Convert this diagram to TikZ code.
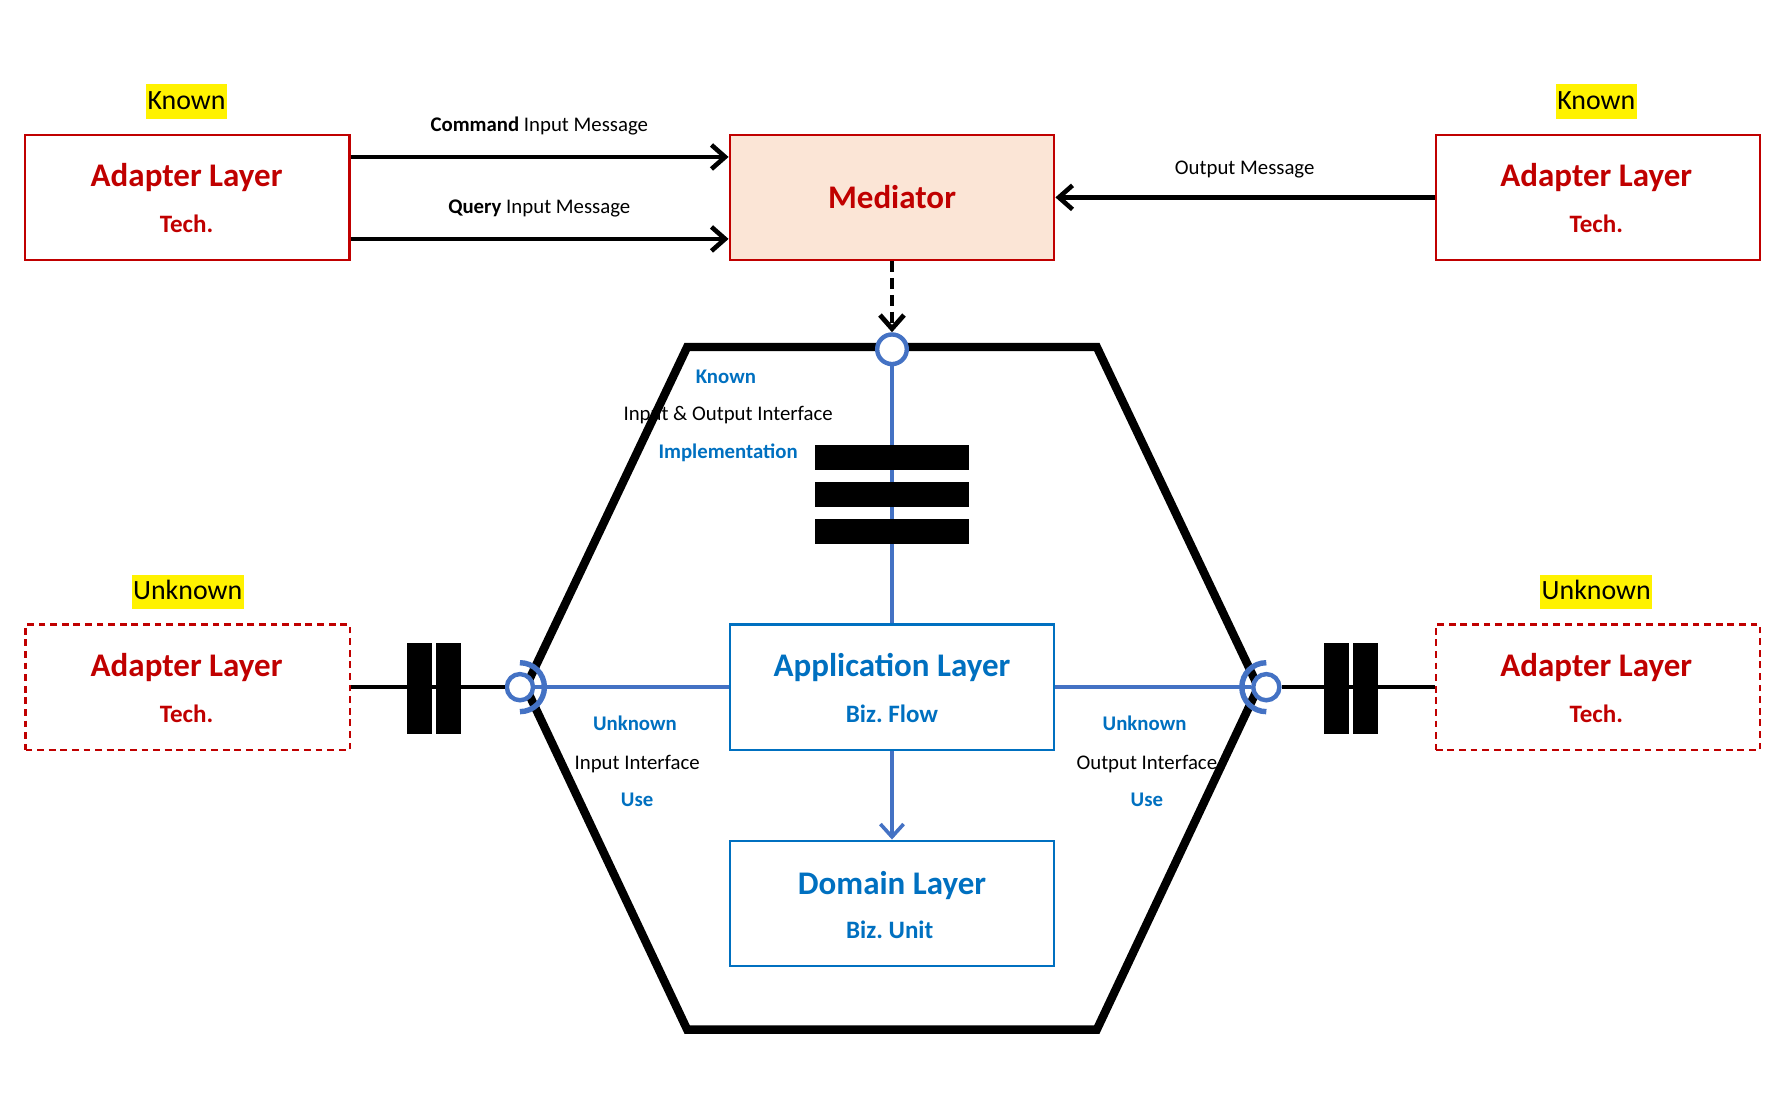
\documentclass[tikz,border=0pt]{standalone}
\usepackage{fontspec}
\setmainfont{Carlito}
\usetikzlibrary{arrows.meta}
\definecolor{tred}{HTML}{C00000}
\definecolor{peach}{HTML}{FBE5D6}
\definecolor{tblue}{HTML}{0070C0}
\definecolor{lblue}{HTML}{4472C4}
\newcommand{\layerfont}{\fontsize{8.25}{10}\selectfont\bfseries}
\newcommand{\techfont}{\fontsize{6.26}{8}\selectfont\bfseries}
\newcommand{\tagfont}{\fontsize{6.97}{8}\selectfont}
\newcommand{\msgfont}{\fontsize{5.2}{6}\selectfont}
\frenchspacing
\begin{document}
\begin{tikzpicture}[x=0.01cm, y=-0.01cm,
	box/.style={draw, rectangle, line width=0.6pt, minimum width=2.85cm, minimum height=1.1cm, inner sep=0},
	adapter/.style={box, draw=tred},
	ghost/.style={adapter, dash pattern=on 1.7pt off 1.2pt},
	layer/.style={box, draw=tblue},
	hl/.style={fill=yellow, anchor=base, inner xsep=0.4pt, inner ysep=0.7pt, text height=5.5pt, text depth=1.7pt, font=\tagfont},
	title/.style={anchor=base, inner sep=0, font=\layerfont},
	tech/.style={anchor=base, inner sep=0, font=\techfont},
	lbl/.style={anchor=base, inner sep=0, font=\msgfont},
	tag/.style={lbl, text=tblue, font=\msgfont\bfseries},
	msg/.style={line width=1.15pt, -{Straight Barb[length=3.4pt, width=6pt]}},
	link/.style={line width=1pt},
	wire/.style={lblue, line width=0.9pt},
	ball/.style={circle, draw=lblue, fill=white, line width=1.1pt, minimum size=0.23cm, inner sep=0},
	sock/.style={lblue, line width=1.35pt},
	hexa/.style={line width=2.1pt}]

	\useasboundingbox (0,0) rectangle (1561,971);

	\draw[hexa] (604,305) -- (964,305) -- (1106,604) -- (964,905) -- (604,905) -- (462,604) -- cycle;

	\node[hl] (knownL) at (164,96) {Known};
	\node[hl] (knownR) at (1403,96) {Known};
	\node[hl] (unknownL) at (165,527) {Unknown};
	\node[hl] (unknownR) at (1403,527) {Unknown};

	\node[adapter] (adTL) at (164.5,173.5) {};
	\node[title, tred] (adTLa) at (164,164) {Adapter Layer};
	\node[tech, tred] (adTLb) at (164,204) {Tech.};
	\node[adapter] (adTR) at (1404.5,173.5) {};
	\node[title, tred] (adTRa) at (1403,164) {Adapter Layer};
	\node[tech, tred] (adTRb) at (1403,204) {Tech.};
	\node[adapter, fill=peach] (med) at (784,173.5) {};
	\node[title, tred] (meda) at (784,183) {Mediator};

	\node[ghost] (adBL) at (165,604) {};
	\node[title, tred] (adBLa) at (164,595) {Adapter Layer};
	\node[tech, tred] (adBLb) at (164,635) {Tech.};
	\node[ghost] (adBR) at (1404.5,604) {};
	\node[title, tred] (adBRa) at (1403,595) {Adapter Layer};
	\node[tech, tred] (adBRb) at (1403,635) {Tech.};

	\node[layer] (app) at (784,604) {};
	\node[title, tblue] (appa) at (784,595) {Application Layer};
	\node[tech, tblue] (appb) at (784,635) {Biz. Flow};
	\node[layer] (dom) at (784,794) {};
	\node[title, tblue] (doma) at (784,786) {Domain Layer};
	\node[tech, tblue] (domb) at (782,825) {Biz. Unit};

	\draw[msg] ([yshift=0.355cm]adTL.east) -- ([yshift=0.355cm]med.west);
	\draw[msg] ([yshift=-0.365cm]adTL.east) -- ([yshift=-0.365cm]med.west);
	\draw[msg] (adTR.west) -- (med.east);
	\node[lbl] (cmd) at (474,116) {\textbf{Command} Input Message};
	\node[lbl] (qry) at (474,188) {\textbf{Query} Input Message};
	\node[lbl] (outmsg) at (1094,153) {Output Message};

	\node[ball, minimum size=0.26cm] (io) at (784,307) {};
	\node[ball] (inL) at (457,604) {};
	\node[ball] (outR) at (1113,604) {};

	\draw[wire] (io) -- (app);
	\foreach \y in {391,424,456}
		\fill (716,\y) rectangle (852,\y+22);
	\draw[line width=1.2pt, dash pattern=on 2.8pt off 1.4pt, -{Straight Barb[length=3.4pt, width=6pt]}] (med) -- (io);

	\draw[link] (adBL) -- (inL);
	\fill (358,565) rectangle (380,645);
	\fill (383,565) rectangle (405,645);
	\draw[wire] (inL) -- (app);
	\draw[sock] ([yshift=0.215cm]inL.center) arc[start angle=90, end angle=-90, radius=0.215cm];

	\draw[wire] (app) -- (outR);
	\draw[link] (outR) -- (adBR);
	\fill (1164,565) rectangle (1186,645);
	\fill (1189,565) rectangle (1211,645);
	\draw[sock] ([yshift=0.215cm]outR.center) arc[start angle=90, end angle=270, radius=0.215cm];

	\draw[wire, -{Straight Barb[length=3.2pt, width=5.8pt]}] (app) -- (dom);

	\node[tag] (kn) at (638,337) {Known};
	\node[lbl] (io1) at (640,370) {Input \& Output Interface};
	\node[tag] (io2) at (640,403) {Implementation};
	\node[tag] (unL) at (558,642) {Unknown};
	\node[lbl] (in1) at (560,676) {Input Interface};
	\node[tag] (in2) at (560,709) {Use};
	\node[tag] (unR) at (1006,642) {Unknown};
	\node[lbl] (out1) at (1008,676) {Output Interface};
	\node[tag] (out2) at (1008,709) {Use};
\end{tikzpicture}
\end{document}
